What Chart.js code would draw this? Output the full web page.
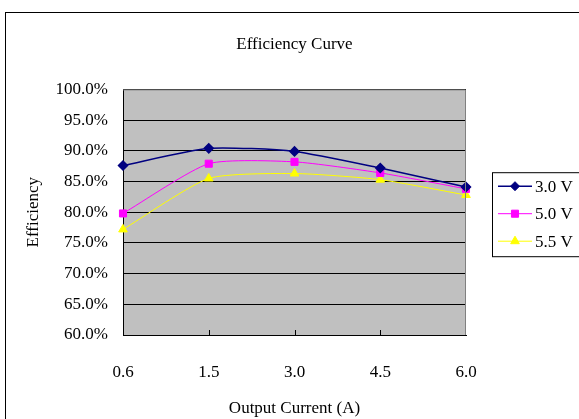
<!DOCTYPE html>
<html>
<head>
<meta charset="utf-8">
<script src="https://cdn.jsdelivr.net/npm/chart.js@4"></script>
<style>
  html, body { margin: 0; padding: 0; background: #fff; }
  #wrap { width: 579px; height: 419px; }
</style>
</head>
<body>
<div id="wrap"><canvas id="effChart"></canvas></div>
<script>
const currents = ['0.6', '1.5', '3.0', '4.5', '6.0'];
const eff30 = [87.6, 90.4, 89.9, 87.2, 84.1];
const eff50 = [79.8, 87.9, 88.2, 86.4, 83.8];
const eff55 = [77.2, 85.5, 86.3, 85.3, 82.8];

const serif = 'Liberation Serif, Times New Roman, serif';

// white page, outer frame and grey plot area
const frame = {
    id: 'frame',
    beforeDraw(chart) {
        const c = chart.ctx, a = chart.chartArea;
        c.save();
        c.fillStyle = '#fff';
        c.fillRect(0, 0, chart.width, chart.height);
        c.strokeStyle = '#000';
        c.lineWidth = 1;
        c.strokeRect(5.5, 12.5, chart.width + 10, chart.height + 10);
        c.fillStyle = '#c0c0c0';
        c.fillRect(a.left, a.top, a.right - a.left, a.bottom - a.top);
        c.restore();
    },
    afterDatasetsDraw(chart) {
        const c = chart.ctx, a = chart.chartArea;
        const x = chart.scales.x;
        c.save();
        c.strokeStyle = '#808080';
        c.lineWidth = 1;
        c.beginPath();
        c.moveTo(a.left, a.top + 0.5);
        c.lineTo(a.right - 0.5, a.top + 0.5);
        c.lineTo(a.right - 0.5, a.bottom);
        c.stroke();
        // little inward tick marks on the category axis
        c.strokeStyle = '#000';
        for (let i = 1; i < currents.length - 1; i++) {
            const px = Math.round(x.getPixelForTick(i)) + 0.5;
            c.beginPath();
            c.moveTo(px, a.bottom);
            c.lineTo(px, a.bottom - 5);
            c.stroke();
        }
        c.restore();
    }
};

// Excel style legend: line with marker, framed box
const lineLegend = {
    id: 'lineLegend',
    afterDraw(chart) {
        const c = chart.ctx, a = chart.chartArea;
        const left = a.right + 26;
        const mid = (a.top + a.bottom) / 2;
        const top = mid - 40;
        c.save();
        c.strokeStyle = '#000';
        c.lineWidth = 1;
        c.strokeRect(left + 0.5, top + 0.5, chart.width, 84);
        c.font = '17px ' + serif;
        c.textBaseline = 'middle';
        chart.data.datasets.forEach((ds, i) => {
            const y = top + 14 + i * 27.5;
            c.strokeStyle = ds.borderColor;
            c.lineWidth = ds.borderWidth;
            c.beginPath();
            c.moveTo(left + 6, y);
            c.lineTo(left + 40, y);
            c.stroke();
            c.fillStyle = ds.pointBackgroundColor;
            c.strokeStyle = ds.borderColor;
            c.lineWidth = 1;
            Chart.helpers.drawPoint(c, { pointStyle: ds.pointStyle, radius: ds.pointRadius, rotation: 0, borderWidth: 1 }, left + 23, y);
            c.fillStyle = '#000';
            c.fillText(ds.label, left + 43, y + 1);
        });
        c.restore();
    }
};

const ctx = document.getElementById('effChart').getContext('2d');
const effChart = new Chart(ctx, {
    type: 'line',
    data: {
        labels: currents,
        datasets: [
            {
                label: '3.0 V',
                data: eff30,
                borderColor: '#000080',
                backgroundColor: '#000080',
                pointBackgroundColor: '#000080',
                borderWidth: 1.5,
                pointStyle: 'rectRot',
                pointRadius: 4.5,
                tension: 0.2
            },
            {
                label: '5.0 V',
                data: eff50,
                borderColor: '#ff00ff',
                backgroundColor: '#ff00ff',
                pointBackgroundColor: '#ff00ff',
                borderWidth: 1,
                pointStyle: 'rect',
                pointRadius: 5,
                tension: 0.2
            },
            {
                label: '5.5 V',
                data: eff55,
                borderColor: '#ffff00',
                backgroundColor: '#ffff00',
                pointBackgroundColor: '#ffff00',
                borderWidth: 1,
                pointStyle: 'triangle',
                pointRadius: 5,
                tension: 0.2
            }
        ]
    },
    options: {
        responsive: true,
        maintainAspectRatio: false,
        animation: false,
        layout: {
            padding: { left: 0, right: 113, top: 0, bottom: 0 }
        },
        scales: {
            x: {
                offset: false,
                grid: { display: false, drawTicks: false },
                border: { color: '#000', width: 1 },
                ticks: { color: '#000', font: { family: serif, size: 17 }, padding: 27, maxRotation: 0 },
                title: { display: true, text: 'Output Current (A)', color: '#000', font: { family: serif, size: 17 }, padding: 0 },
                afterFit: (scale) => { scale.height = 84; }
            },
            y: {
                min: 60,
                max: 100,
                grid: { color: '#000', lineWidth: 1, drawTicks: false },
                border: { color: '#000', width: 1 },
                ticks: {
                    stepSize: 5,
                    color: '#000',
                    padding: 15,
                    font: { family: serif, size: 17 },
                    callback: (v) => v.toFixed(1) + '%'
                },
                title: { display: true, text: 'Efficiency', color: '#000', font: { family: serif, size: 17 }, padding: { top: 23, bottom: 23 } },
                afterFit: (scale) => { scale.width = 123; }
            }
        },
        plugins: {
            legend: { display: false },
            tooltip: { enabled: false },
            title: {
                display: true,
                fullSize: false,
                text: 'Efficiency Curve',
                color: '#000',
                font: { family: serif, size: 17, weight: 'normal' },
                padding: { top: 34, bottom: 35 }
            }
        }
    },
    plugins: [frame, lineLegend]
});
</script>
</body>
</html>
